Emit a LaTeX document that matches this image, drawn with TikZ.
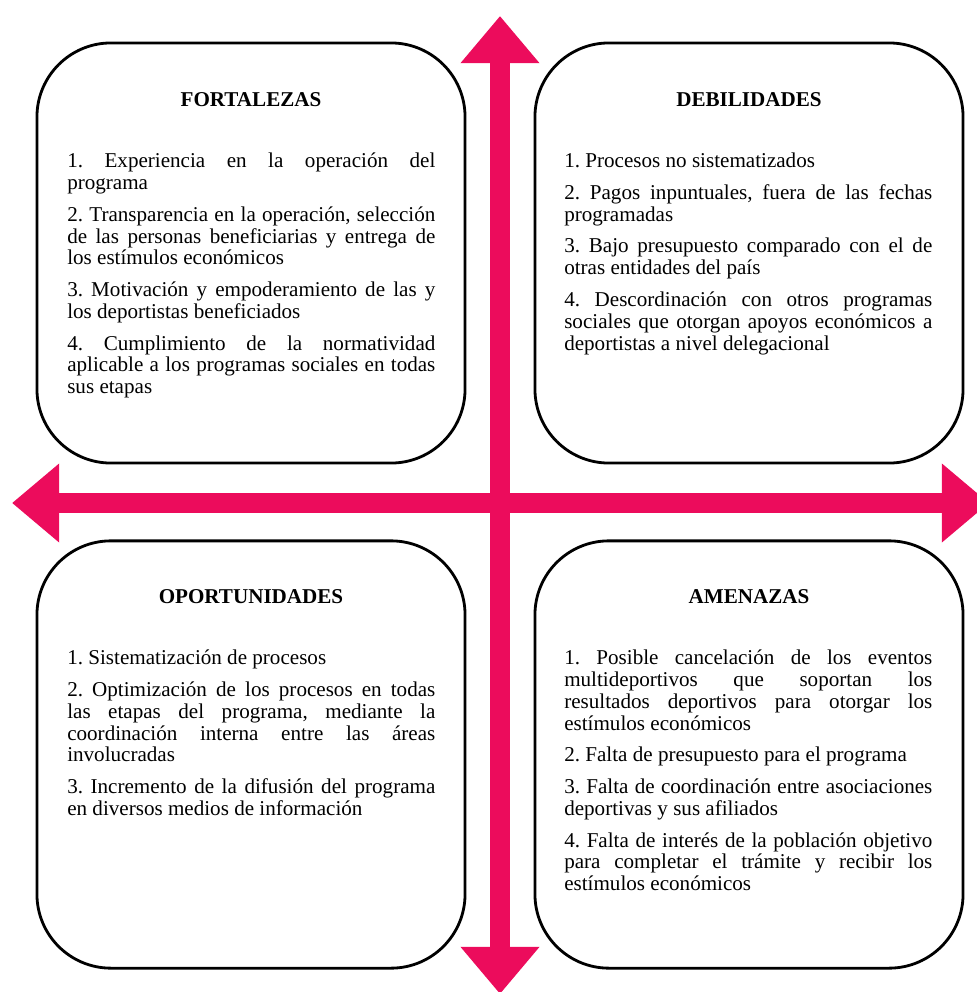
\documentclass[tikz,border=0pt]{standalone}
\usepackage{fontspec}
\setmainfont{Liberation Serif}
\usepackage{xcolor}
\usepackage{tikz}
\usetikzlibrary{arrows.meta}
\definecolor{crossPink}{RGB}{236,12,92}
\hyphenpenalty=10000
\tolerance=9999
\frenchspacing

\tikzset{
  quadrant/.style={draw=black, line width=2pt, rounded corners=1.85cm,
    minimum width=10.7cm, minimum height=10.5cm, inner sep=0pt},
  heading/.style={font=\bfseries\fontsize{15}{18}\selectfont, inner sep=0pt, anchor=base},
  lista/.style={font=\fontsize{15}{15.5}\selectfont, text width=9.2cm, align=justify,
    inner sep=0pt, anchor=north west, execute at begin node=\setlength{\parskip}{7pt}},
  axis/.style={crossPink, line width=0.52cm,
    {Triangle[width=1.9cm,length=1.18cm]}-{Triangle[width=1.9cm,length=1.18cm]}}
}

\begin{document}
\begin{tikzpicture}[x=0.025cm, y=-0.025cm]
\useasboundingbox (0,0) rectangle (977,992);

% Axis ends
\coordinate (yStart) at (500,994);
\coordinate (yEnd) at (500,16);
\coordinate (xStart) at (12,503);
\coordinate (xEnd) at (989,503);

% Axis Arrows
\draw[axis] (yStart) -- (yEnd);
\draw[axis] (xStart) -- (xEnd);

% Quadrant boxes
\node[quadrant] (fort) at (251,253) {};
\node[quadrant] (debi) at (749,253) {};
\node[quadrant, minimum height=10.68cm] (opor) at (251,754.5) {};
\node[quadrant, minimum height=10.68cm] (amen) at (749,754.5) {};

% Headings
\node[heading] (fortT) at (251,107) {FORTALEZAS};
\node[heading] (debiT) at (749,107) {DEBILIDADES};
\node[heading] (oporT) at (251,603) {OPORTUNIDADES};
\node[heading] (amenT) at (749,603) {AMENAZAS};

% Lists
\node[lista] (fortL) at (67,153) {1. Experiencia en la operación del \linebreak programa\par
2. Transparencia en la operación, selección \linebreak de las personas beneficiarias y entrega de \linebreak los estímulos económicos\par
3. Motivación y empoderamiento de las y \linebreak los deportistas beneficiados\par
4. Cumplimiento de la normatividad \linebreak aplicable a los programas sociales en todas \linebreak sus etapas};

\node[lista] (debiL) at (564,153) {1. Procesos no sistematizados\par
2. Pagos inpuntuales, fuera de las fechas \linebreak programadas\par
3. Bajo presupuesto comparado con el de \linebreak otras entidades del país\par
4. Descordinación con otros programas \linebreak sociales que otorgan apoyos económicos a \linebreak deportistas a nivel delegacional};

\node[lista] (oporL) at (67,650) {1. Sistematización de procesos\par
2. Optimización de los procesos en todas \linebreak las etapas del programa, mediante la \linebreak coordinación interna entre las áreas \linebreak involucradas\par
3. Incremento de la difusión del programa \linebreak en diversos medios de información};

\node[lista] (amenL) at (564,650) {1. Posible cancelación de los eventos \linebreak multideportivos que soportan los \linebreak resultados deportivos para otorgar los \linebreak estímulos económicos\par
2. Falta de presupuesto para el programa\par
3. Falta de coordinación entre asociaciones \linebreak deportivas y sus afiliados\par
4. Falta de interés de la población objetivo \linebreak para completar el trámite y recibir los \linebreak estímulos económicos};
\end{tikzpicture}
\end{document}
